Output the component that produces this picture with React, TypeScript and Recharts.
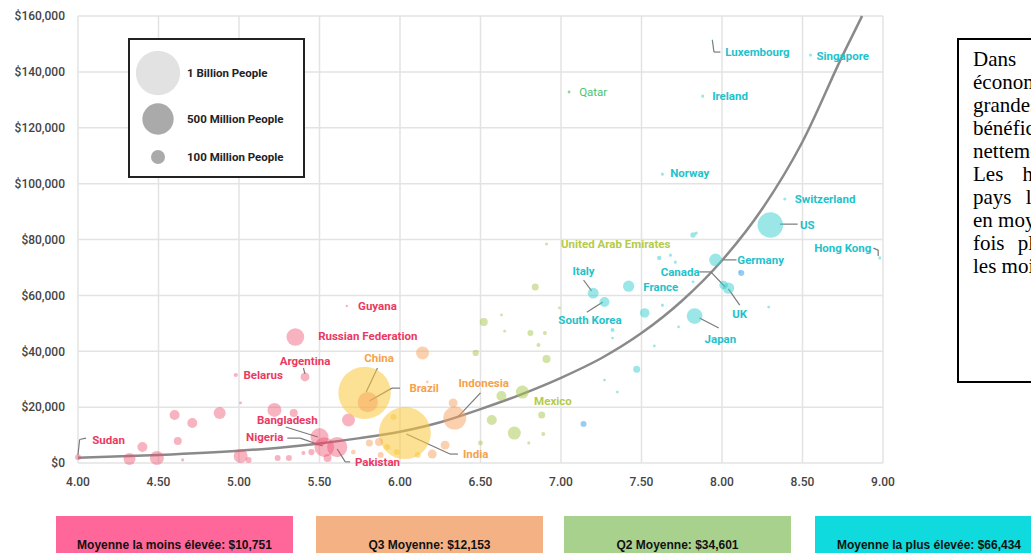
import React from "react";
import {
  CartesianGrid,
  ComposedChart,
  Line,
  ReferenceLine,
  Scatter,
  XAxis,
  YAxis,
  ZAxis,
} from "recharts";

// [gdp per capita index, income in $k, population in millions]
const pinkPoints = [
  [4.0, 2.1, 18], [4.32, 1.4, 73], [4.4, 5.7, 51], [4.49, 1.8, 100], [4.6, 17.2, 51],
  [4.71, 14.3, 51], [4.62, 7.9, 33], [4.65, 1.1, 5], [4.88, 17.9, 73], [4.98, 31.5, 9],
  [5.01, 21.5, 4], [5.01, 2.5, 100], [5.06, 1.1, 18], [5.22, 19.0, 100], [5.34, 17.9, 33],
  [5.41, 30.8, 40], [5.24, 1.8, 18], [5.31, 1.8, 18], [5.4, 3.6, 8], [5.35, 45.1, 160],
  [5.67, 56.2, 3], [5.68, 15.4, 86], [5.5, 9.3, 165], [5.53, 5.7, 200], [5.61, 5.7, 210],
  [5.55, 1.8, 33], [5.45, 3.9, 20],
];
const yellowPoints = [
  [5.78, 25.1, 1400], [6.03, 10.7, 1380], [5.96, 16.5, 18], [5.92, 5.7, 18], [5.98, 3.9, 18],
  [6.11, 2.9, 18],
];
const orangePoints = [
  [5.8, 21.8, 210], [6.14, 39.4, 86], [6.34, 16.1, 270], [6.33, 21.5, 41], [6.28, 6.4, 41],
  [6.2, 3.2, 41], [5.81, 7.2, 25], [5.87, 7.5, 33], [5.88, 2.9, 18], [5.71, 3.9, 12],
  [6.17, 29.0, 4],
];
const greenPoints = [
  [6.52, 50.5, 33], [6.63, 53.0, 4], [6.47, 39.4, 20], [6.81, 46.5, 18], [6.9, 46.5, 8],
  [6.86, 42.2, 8], [6.91, 37.2, 33], [6.63, 24.0, 51], [6.76, 25.4, 86], [6.57, 15.4, 51],
  [6.71, 10.7, 86], [6.88, 17.2, 25], [6.5, 7.2, 12], [6.8, 7.2, 5], [6.89, 10.4, 8],
  [6.84, 63.0, 25], [6.91, 78.4, 5], [6.99, 55.5, 4], [6.65, 47.2, 4],
];
const qatarPoints = [[7.05, 132.8, 4]];
const cyanPoints = [
  [7.2, 60.8, 60], [7.27, 57.6, 51], [7.42, 63.3, 65], [7.52, 53.7, 47], [7.61, 73.4, 10],
  [7.68, 74.4, 5], [7.71, 71.9, 5], [7.82, 81.6, 15], [7.84, 82.3, 5], [8.01, 63.7, 38],
  [7.96, 72.7, 83], [8.04, 62.6, 67], [7.83, 52.6, 126], [8.3, 85.2, 330], [8.39, 94.5, 5],
  [8.98, 73.4, 5], [7.94, 151.4, 1], [8.55, 146.0, 5], [7.88, 131.3, 5], [7.63, 103.4, 5],
  [7.32, 47.6, 8], [7.32, 44.7, 4], [7.47, 33.6, 25], [7.27, 29.7, 4], [7.35, 25.4, 4],
  [7.58, 41.9, 4], [7.73, 48.7, 4], [7.63, 56.5, 5], [7.82, 64.8, 4], [8.11, 68.4, 5],
  [8.29, 55.8, 4],
];
const bluePoints = [[8.12, 68.0, 18], [7.14, 14.0, 18]];

const curveX = [4.0, 4.5, 5.0, 5.25, 5.5, 5.75, 6.0, 6.25, 6.5, 6.75, 7.0, 7.25, 7.5, 7.75, 8.0, 8.25, 8.5, 8.75, 8.87];
const curveY = [1.9, 2.9, 4.4, 5.5, 7.0, 8.9, 11.2, 14.6, 19.3, 24.5, 30.5, 37.5, 46.5, 58, 72.5, 91, 115, 146, 160];

// label text, label centre (x, $k)
const pinkLabels: [string, number, number][] = [
  ["Sudan", 4.19, 8.2], ["Belarus", 5.15, 31.5], ["Argentina", 5.41, 36.5], ["Guyana", 5.86, 56.2],
  ["Russian Federation", 5.8, 45.4], ["Bangladesh", 5.3, 15.4], ["Nigeria", 5.16, 9.3], ["Pakistan", 5.86, 0.4],
];
const orangeLabels: [string, number, number][] = [
  ["China", 5.87, 37.6], ["Brazil", 6.15, 26.8], ["Indonesia", 6.52, 28.6], ["India", 6.47, 3.2],
];
const greenLabels: [string, number, number][] = [
  ["Mexico", 6.95, 22.2], ["United Arab Emirates", 7.34, 78.4],
];
const qatarLabels: [string, number, number][] = [["Qatar", 7.2, 132.8]];
const cyanLabels: [string, number, number][] = [
  ["Italy", 7.14, 68.7], ["South Korea", 7.18, 51.2], ["France", 7.62, 63.0], ["Canada", 7.74, 68.4],
  ["Germany", 8.24, 72.7], ["UK", 8.11, 53.3], ["Japan", 7.99, 44.4], ["US", 8.53, 85.2],
  ["Switzerland", 8.64, 94.5], ["Hong Kong", 8.75, 76.9], ["Luxembourg", 8.22, 147.1],
  ["Singapore", 8.75, 145.7], ["Ireland", 8.05, 131.4], ["Norway", 7.8, 103.8],
];

const leaders = [
  [[4.0, 2.9], [4.01, 8.4], [4.05, 8.9]],
  [[5.4, 34.0], [5.41, 31.9]],
  [[5.86, 34.0], [5.79, 25.4]],
  [[6.0, 26.8], [5.95, 26.8], [5.81, 22.2]],
  [[6.5, 25.1], [6.36, 16.5]],
  [[6.36, 3.2], [6.31, 3.2], [6.04, 10.4]],
  [[5.69, 0.4], [5.66, 0.4], [5.61, 5.0]],
  [[5.29, 12.9], [5.49, 9.3]],
  [[5.3, 8.9], [5.38, 8.9], [5.52, 6.1]],
  [[7.14, 65.5], [7.19, 61.6]],
  [[7.16, 54.0], [7.26, 57.6]],
  [[7.86, 68.4], [7.93, 68.4], [8.02, 63.0]],
  [[8.01, 72.7], [8.09, 72.7]],
  [[8.11, 56.5], [8.04, 62.3]],
  [[7.98, 48.3], [7.86, 51.9]],
  [[8.36, 85.5], [8.47, 85.5]],
  [[8.94, 76.9], [8.97, 76.2], [8.97, 74.1]],
  [[7.94, 151.4], [7.95, 147.1], [7.99, 147.1]],
];

const xTicks = [4, 4.5, 5, 5.5, 6, 6.5, 7, 7.5, 8, 8.5, 9];
const yTicks = [0, 20, 40, 60, 80, 100, 120, 140, 160];

const legendItems: [string, number][] = [
  ["1 Billion People", 1000],
  ["500 Million People", 500],
  ["100 Million People", 100],
];

const summaries: [string, string][] = [
  ["Moyenne la moins élevée: $10,751", "#FF6699"],
  ["Q3 Moyenne: $12,153", "#F4B183"],
  ["Q2 Moyenne: $34,601", "#A9D18E"],
  ["Moyenne la plus élevée: $66,434", "#0FDADD"],
];

// the note is justified in the original, so word gaps vary by line
const noteLines: [string, number][] = [
  ["Dans les", 22],
  ["économies les plus", 0],
  ["grandes, les habitants", 0],
  ["bénéficient d'un revenu", 0],
  ["nettement supérieur.", 0],
  ["Les habitants des", 14],
  ["pays les plus riches gagnent", 9],
  ["en moyenne six", 0],
  ["fois plus que", 8],
  ["les moins riches.", 0],
];

// bubble area per million people (100M -> r=7px)
const AREA_PER_M = (Math.PI * 49) / 100;

const toPts = (arr: number[][]) => arr.map(([x, y, z]) => ({ x, y, z }));
const toLabels = (arr: [string, number, number][]) => arr.map(([name, x, y]) => ({ name, x, y }));
const curve = curveX.map((x, i) => ({ x, y: curveY[i] }));

const FONT = "Roboto, 'Noto Sans', sans-serif";
const GRID = "#e3e3e3";

function labelShape(color: string, weight = 700) {
  return (p: any) => (
    <text
      x={p.cx}
      y={p.cy}
      fill={color}
      fontSize={11.5}
      fontWeight={weight}
      fontFamily={FONT}
      textAnchor="middle"
      dominantBaseline="central"
    >
      {p.payload.name}
    </text>
  );
}

const bubbleSeries: [number[][], string, number][] = [
  [pinkPoints, "#EE4A6C", 0.42],
  [yellowPoints, "#F9C83C", 0.55],
  [orangePoints, "#F7A25E", 0.5],
  [greenPoints, "#A8C64C", 0.5],
  [qatarPoints, "#6CCB8A", 0.8],
  [cyanPoints, "#38CFCF", 0.5],
  [bluePoints, "#6BB6EC", 0.7],
];

const labelSeries: [[string, number, number][], string, number][] = [
  [pinkLabels, "#EA3A62", 700],
  [orangeLabels, "#F5A24C", 700],
  [greenLabels, "#B5CB48", 700],
  [qatarLabels, "#48C46E", 400],
  [cyanLabels, "#1FC2CB", 700],
];

const tickStyle = { fill: "#444", fontSize: 12, fontWeight: 500, fontFamily: FONT };

export default function App() {
  return (
    <div
      style={{
        position: "fixed",
        left: 0,
        top: 0,
        width: 1031,
        height: 553,
        overflow: "hidden",
        background: "#fff",
      }}
    >
      <div style={{ position: "absolute", left: 0, top: 0 }}>
        <ComposedChart width={900} height={500} margin={{ top: 16, right: 17, bottom: 7, left: 0 }}>
          <CartesianGrid stroke={GRID} strokeWidth={1.5} />
          <XAxis
            type="number"
            dataKey="x"
            domain={[4, 9]}
            ticks={xTicks}
            tickFormatter={(v) => Number(v).toFixed(2)}
            axisLine={false}
            tickLine={false}
            tickMargin={8}
            height={30}
            tick={tickStyle}
          />
          <YAxis
            type="number"
            dataKey="y"
            domain={[0, 160]}
            ticks={yTicks}
            tickFormatter={(v) => `$${(Number(v) * 1000).toLocaleString("en-US")}`}
            axisLine={false}
            tickLine={false}
            tickMargin={7}
            width={78}
            tick={tickStyle}
          />
          <ZAxis type="number" dataKey="z" domain={[0, 2000]} range={[0, 2000 * AREA_PER_M]} />
          {bubbleSeries.map(([pts, color, op], i) => (
            <Scatter
              key={"b" + i}
              data={toPts(pts)}
              fill={color}
              fillOpacity={op}
              isAnimationActive={false}
            />
          ))}
          <Line
            data={curve}
            dataKey="y"
            type="monotone"
            stroke="#8a8a8a"
            strokeWidth={2.5}
            dot={false}
            isAnimationActive={false}
          />
          {leaders.flatMap((pl, i) =>
            pl.slice(1).map((pt, j) => (
              <ReferenceLine
                key={`l${i}-${j}`}
                segment={[
                  { x: pl[j][0], y: pl[j][1] },
                  { x: pt[0], y: pt[1] },
                ]}
                stroke="#7a7a7a"
                strokeWidth={1.2}
                ifOverflow="visible"
              />
            ))
          )}
          {labelSeries.map(([labels, color, weight], i) => (
            <Scatter
              key={"t" + i}
              data={toLabels(labels)}
              shape={labelShape(color, weight)}
              isAnimationActive={false}
            />
          ))}
        </ComposedChart>
      </div>

      {/* bubble size key */}
      <div
        style={{
          position: "absolute",
          left: 128,
          top: 38,
          width: 173,
          height: 136,
          border: "2px solid #222",
          background: "#fff",
        }}
      >
        <svg width={173} height={136}>
          {legendItems.map(([text, pop], i) => {
            const r = Math.sqrt((pop * AREA_PER_M) / Math.PI);
            const cy = [33, 79, 117][i];
            return (
              <g key={text}>
                <circle cx={28} cy={cy} r={r} fill={i === 0 ? "#e2e2e2" : "#aaaaaa"} />
                <text
                  x={57}
                  y={cy}
                  fontSize={11.5}
                  fontWeight={700}
                  fontFamily={FONT}
                  fill="#222"
                  dominantBaseline="central"
                >
                  {text}
                </text>
              </g>
            );
          })}
        </svg>
      </div>

      {/* side note */}
      <div
        style={{
          position: "absolute",
          left: 957,
          top: 38,
          width: 220,
          height: 345,
          border: "2px solid #000",
          boxSizing: "border-box",
          paddingLeft: 14,
          paddingTop: 8,
          fontFamily: "'Liberation Serif', 'Times New Roman', serif",
          fontSize: 21,
          lineHeight: "23px",
          color: "#000",
          whiteSpace: "nowrap",
        }}
      >
        {noteLines.map(([l, gap]) => (
          <div key={l} style={{ wordSpacing: gap }}>
            {l}
          </div>
        ))}
      </div>

      {/* averages */}
      {summaries.map(([text, color], i) => (
        <div
          key={text}
          style={{
            position: "absolute",
            left: [56, 316, 564, 815][i],
            top: 516,
            width: [237, 227, 227, 228][i],
            height: 58,
            background: color,
            display: "flex",
            alignItems: "center",
            justifyContent: "center",
            fontFamily: "'Liberation Sans Narrow', 'Liberation Sans', sans-serif",
            fontWeight: 700,
            fontSize: 12,
            color: "#111",
          }}
        >
          {text}
        </div>
      ))}
    </div>
  );
}
